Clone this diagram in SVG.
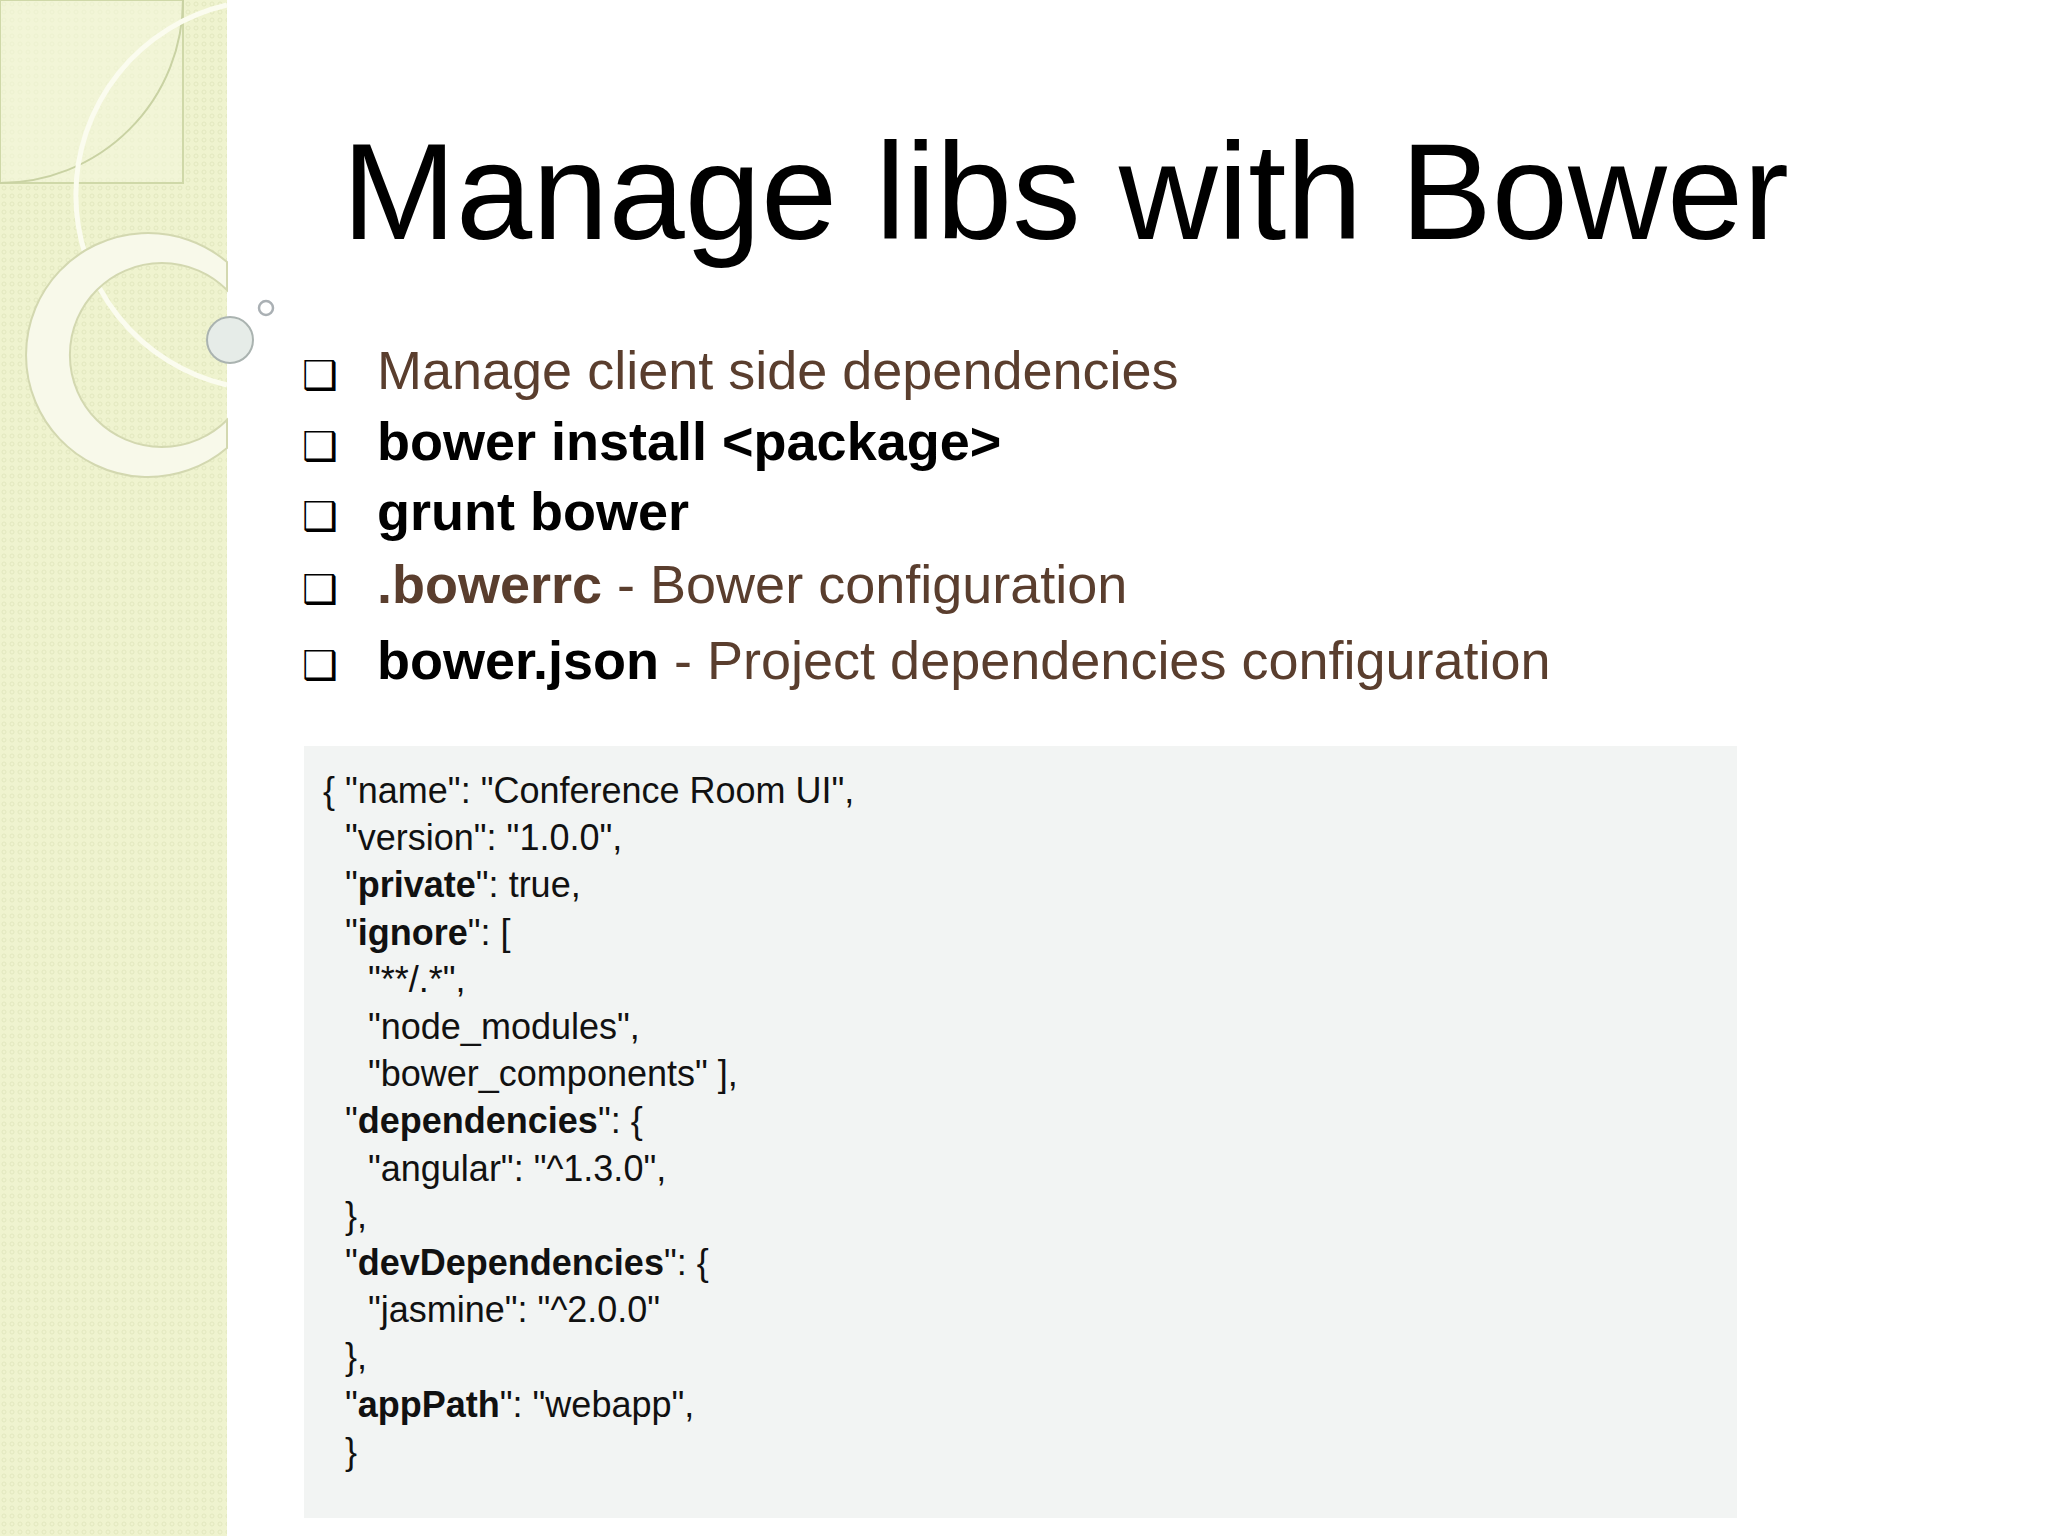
<svg xmlns="http://www.w3.org/2000/svg" width="2048" height="1536" viewBox="0 0 2048 1536">
<defs>
<pattern id="dots" width="8" height="8" patternUnits="userSpaceOnUse"><rect width="8" height="8" fill="#eff3cf"/><circle cx="4" cy="4" r="2" fill="none" stroke="#e2e8bf" stroke-width="1"/></pattern>
<style>
.b{font-family:"Liberation Sans",Arial,sans-serif;font-size:54px;fill:#5a3e2e}
.k{font-weight:bold;fill:#000}
.bu{font-family:"DejaVu Sans",sans-serif;font-size:40px;fill:#000}
.c{font-family:"Liberation Sans",Arial,sans-serif;font-size:36px;fill:#111}
</style>
</defs>
<rect width="2048" height="1536" fill="#fff"/>
<g id="panel">
<rect width="227" height="1536" fill="url(#dots)"/>
<rect x="0" y="0" width="183" height="183" fill="#f3f6dc" fill-opacity="0.6" stroke="#cfd8a8" stroke-width="2"/>
<path d="M183 0 A183 183 0 0 1 0 183" fill="none" stroke="#c9d2a3" stroke-width="2"/>
<path d="M227 5 A195 195 0 0 0 227 385" fill="none" stroke="#fbfcef" stroke-width="5"/>
<path d="M227 262 A122 122 0 1 0 227 448 L227 420 A92 92 0 1 1 227 290 Z" fill="#f8f9ea" stroke="#d3d8b0" stroke-width="2"/>
</g>
<g id="dots2">
<circle cx="230" cy="340" r="23" fill="#e6ece8" stroke="#aab3b0" stroke-width="2"/>
<circle cx="266" cy="308" r="7" fill="none" stroke="#aab0b4" stroke-width="2.5"/>
</g>
<text id="title" x="342" y="239" font-family="Liberation Sans,Arial,sans-serif" font-size="137" fill="#000">Manage libs with Bower</text>
<g id="bullets">
<text class="bu" x="302" y="389">❑</text>
<text class="bu" x="302" y="460">❑</text>
<text class="bu" x="302" y="530">❑</text>
<text class="bu" x="302" y="603">❑</text>
<text class="bu" x="302" y="679">❑</text>
<text class="b" x="377" y="389">Manage client side dependencies</text>
<text class="b k" x="377" y="460">bower install &lt;package&gt;</text>
<text class="b k" x="377" y="530">grunt bower</text>
<text class="b" x="377" y="603"><tspan class="k" fill="#5a3e2e" style="fill:#5a3e2e">.bowerrc</tspan> - Bower configuration</text>
<text class="b" x="377" y="679"><tspan class="k">bower.json</tspan> - Project dependencies configuration</text>
</g>
<g id="code">
<rect x="304" y="746" width="1433" height="772" fill="#f2f4f3"/>
<text class="c" x="323" y="803">{ "name": "Conference Room UI",</text>
<text class="c" x="345" y="850">"version": "1.0.0",</text>
<text class="c" x="345" y="897">"<tspan font-weight="bold">private</tspan>": true,</text>
<text class="c" x="345" y="945">"<tspan font-weight="bold">ignore</tspan>": [</text>
<text class="c" x="368" y="992">"**/.*",</text>
<text class="c" x="368" y="1039">"node_modules",</text>
<text class="c" x="368" y="1086">"bower_components" ],</text>
<text class="c" x="345" y="1133">"<tspan font-weight="bold">dependencies</tspan>": {</text>
<text class="c" x="368" y="1181">"angular": "^1.3.0",</text>
<text class="c" x="345" y="1228">},</text>
<text class="c" x="345" y="1275">"<tspan font-weight="bold">devDependencies</tspan>": {</text>
<text class="c" x="368" y="1322">"jasmine": "^2.0.0"</text>
<text class="c" x="345" y="1369">},</text>
<text class="c" x="345" y="1417">"<tspan font-weight="bold">appPath</tspan>": "webapp",</text>
<text class="c" x="345" y="1464">}</text>
</g>
</svg>
